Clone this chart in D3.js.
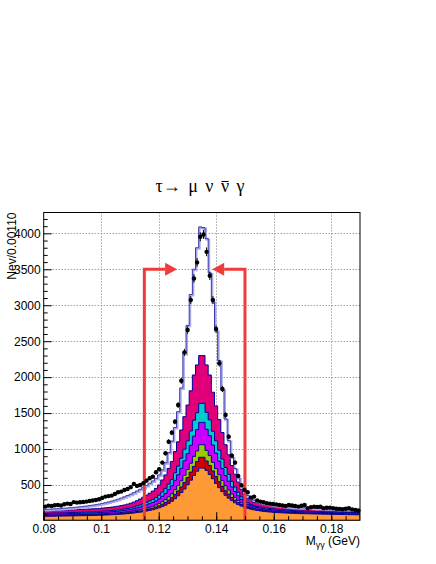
<!DOCTYPE html>
<html>
<head>
<meta charset="utf-8">
<script src="https://cdn.jsdelivr.net/npm/d3@7"></script>
<style>
  body { margin: 0; background: #fff; }
</style>
</head>
<body>
<div id="chart"></div>
<script>
// Histogram binning (100 bins of 0.0011 GeV)
const xMin = 0.08, xMax = 0.19, binWidth = 0.0011, nBins = 100;

// Data points (events per bin)
const dataCounts = [
  199,213,208,218,222,215,232,241,236,262,
  255,260,264,269,278,285,292,301,320,338,
  345,352,375,399,408,431,445,470,514,487,
  500,524,560,593,616,676,718,811,941,1102,
  1228,1381,1612,1950,2345,2655,3072,3373,3596,3952,
  3985,3743,3410,3072,2669,2192,1835,1473,1172,908,
  811,626,496,432,399,324,338,283,269,259,
  246,240,236,230,222,215,208,222,215,208,
  199,210,222,176,190,199,195,199,176,183,
  185,176,170,167,162,170,176,160,153,144
];

// Total MC (blue outline)
const mcTotal = [
  160,163,165,168,171,173,177,180,184,188,
  192,197,202,207,213,219,226,234,243,253,
  264,276,289,303,318,335,353,372,393,416,
  440,466,494,524,556,592,640,710,810,950,
  1110,1300,1520,1850,2330,2720,3150,3500,3800,4090,
  4080,3930,3450,3050,2650,2230,1830,1420,1120,890,
  730,600,490,410,355,315,290,272,260,249,
  240,232,224,217,211,206,201,197,193,190,
  187,184,182,180,178,176,174,172,171,169,
  168,166,165,164,162,161,160,158,157,156
];

// Stacked background components, bottom to top
const bkgOrange = [
  64,65,65,66,67,67,68,69,70,70,
  71,72,73,74,75,76,77,79,80,82,
  84,86,88,91,94,97,101,105,110,116,
  122,129,137,146,156,168,182,199,219,244,
  274,309,349,394,444,503,567,632,692,735,
  735,702,647,587,522,462,407,357,317,282,
  252,227,207,190,176,164,154,146,139,133,
  128,124,120,117,114,112,110,108,106,104,
  102,101,100,99,98,97,96,95,94,93,
  92,91,90,90,89,88,87,87,86,85
];
const bkgRed = [
  7,7,7,7,7,7,7,7,7,8,
  8,8,8,8,8,8,8,9,9,9,
  9,10,10,10,11,11,12,13,14,15,
  16,18,20,22,23,26,29,33,38,44,
  50,59,68,78,91,100,112,126,133,150,
  150,132,124,108,97,85,74,63,54,44,
  36,28,21,16,13,11,10,9,9,9,
  8,8,8,8,7,7,7,7,6,6,
  6,6,6,6,6,6,6,5,5,5,
  5,5,5,5,5,5,5,5,5,5
];
const bkgGreen = [
  8,8,8,8,8,8,8,8,8,9,
  9,9,9,9,9,9,9,10,10,10,
  10,11,11,11,12,13,13,14,15,17,
  18,20,22,24,26,28,32,37,42,49,
  55,66,75,87,101,111,124,140,148,175,
  175,147,138,120,108,95,82,70,60,49,
  40,31,23,18,14,12,11,10,10,10,
  9,9,9,8,8,8,8,7,7,7,
  7,7,7,7,6,6,6,6,6,6,
  6,6,6,6,6,6,6,6,6,5
];
const bkgViolet = [
  15,15,16,16,16,16,16,16,17,17,
  17,17,18,18,18,18,19,19,20,20,
  21,21,22,23,24,25,26,28,30,33,
  37,40,44,48,52,57,64,74,84,97,
  110,131,150,174,201,222,249,280,296,310,
  310,294,277,241,216,190,165,141,121,98,
  80,63,47,35,28,24,22,20,20,19,
  19,18,17,17,16,16,15,15,14,14,
  14,14,13,13,13,13,12,12,12,12,
  12,12,12,11,11,11,11,11,11,11
];
const bkgCyan = [
  12,12,12,13,13,13,13,13,13,14,
  14,14,14,14,14,15,15,15,16,16,
  16,17,18,18,19,20,21,23,24,27,
  29,32,35,38,41,45,51,59,67,78,
  88,105,120,139,161,177,199,224,236,266,
  266,235,221,192,172,152,132,112,96,78,
  64,50,37,28,22,19,17,16,16,16,
  15,14,14,13,13,13,12,12,12,11,
  11,11,11,10,10,10,10,10,10,10,
  9,9,9,9,9,9,9,9,9,9
];
const bkgPink = [
  34,35,35,35,35,37,38,38,38,37,
  38,39,39,40,41,42,43,42,43,45,
  47,47,49,52,53,56,60,63,69,74,
  83,91,100,107,117,128,142,168,190,218,
  248,295,338,393,452,499,559,628,665,664,
  664,660,623,542,485,426,370,317,272,219,
  178,141,105,78,62,52,48,47,44,43,
  43,41,39,38,38,36,35,33,33,33,
  32,30,29,29,29,28,28,28,28,27,
  27,27,26,26,26,25,25,24,24,24
];

const stackKeys   = ["orange", "red", "green", "violet", "cyan", "pink"];
const stackColors = ["#fd9a35", "#cc0000", "#99cc00", "#cc00ff", "#00cccc", "#e2007a"];

// Axis ticks
const xTicks      = [0.08, 0.10, 0.12, 0.14, 0.16, 0.18];
const xTickLabels = ["0.08", "0.1", "0.12", "0.14", "0.16", "0.18"];
const yTicks      = [500, 1000, 1500, 2000, 2500, 3000, 3500, 4000];

// Selection cuts shown with the red arrows
const cutLow = 0.115, cutHigh = 0.15, arrowLevel = 3500, arrowLen = 0.0114;

// Layout
const width = 436, height = 564;
const frame = { left: 43.7, right: 360, top: 212.5, bottom: 520.2 };

const svg = d3.select("#chart")
  .append("svg")
    .attr("width", width)
    .attr("height", height)
    .style("font-family", "'Liberation Sans', Arial, sans-serif");

svg.append("rect").attr("width", width).attr("height", height).attr("fill", "white");

const x = d3.scaleLinear().domain([xMin, xMax]).range([frame.left, frame.right]);
const y = d3.scaleLinear().domain([10, 4290]).range([frame.bottom, frame.top]);

const edges = d3.range(nBins + 1).map(i => xMin + i * binWidth);

// step points: two per bin (low edge, high edge)
function stepPoints(vals) {
  const pts = [];
  vals.forEach(function (v, i) {
    pts.push([edges[i], v]);
    pts.push([edges[i + 1], v]);
  });
  return pts;
}

svg.append("clipPath").attr("id", "frameClip")
  .append("rect")
    .attr("x", frame.left).attr("y", frame.top)
    .attr("width", frame.right - frame.left)
    .attr("height", frame.bottom - frame.top);

// Grid (under the histograms)
const grid = svg.append("g")
  .attr("stroke", "#777")
  .attr("stroke-width", 1)
  .attr("stroke-dasharray", "1,2");

grid.selectAll(".gy")
  .data(yTicks)
  .enter()
    .append("line")
    .attr("x1", frame.left).attr("x2", frame.right)
    .attr("y1", d => Math.round(y(d)) + 0.5)
    .attr("y2", d => Math.round(y(d)) + 0.5);

grid.selectAll(".gx")
  .data(xTicks.slice(1))
  .enter()
    .append("line")
    .attr("y1", frame.top).attr("y2", frame.bottom)
    .attr("x1", d => Math.round(x(d)) + 0.5)
    .attr("x2", d => Math.round(x(d)) + 0.5);

const plot = svg.append("g").attr("clip-path", "url(#frameClip)");

// Stacked histograms
const table = d3.range(nBins).map(i => ({
  orange: bkgOrange[i], red: bkgRed[i], green: bkgGreen[i],
  violet: bkgViolet[i], cyan: bkgCyan[i], pink: bkgPink[i]
}));
const series = d3.stack().keys(stackKeys)(table);

const area = d3.area()
  .x(d => x(d[0]))
  .y0(y(10) + 2)
  .y1(d => y(d[1]));

// draw cumulative histograms from tallest to lowest, like THStack
series.slice().reverse().forEach(function (s) {
  const tops = s.map(d => d[1]);
  plot.append("path")
    .attr("d", area(stepPoints(tops)))
    .attr("fill", stackColors[s.index])
    .attr("stroke", "#000099")
    .attr("stroke-width", 1);
});

// Total MC outline
const line = d3.line().x(d => x(d[0])).y(d => y(d[1]));
plot.append("path")
  .attr("d", line(stepPoints(mcTotal)))
  .attr("transform", "translate(1,1)")
  .attr("fill", "none")
  .attr("stroke", "#a8a8e8")
  .attr("stroke-width", 2);
plot.append("path")
  .attr("d", line(stepPoints(mcTotal)))
  .attr("fill", "none")
  .attr("stroke", "#3a3aae")
  .attr("stroke-width", 1);

// Cut arrows
const red = "#ef3b3b";
const headL = 12, headH = 6.5;
[[cutLow, cutLow + arrowLen], [cutHigh, cutHigh - arrowLen]].forEach(function (c) {
  const x0 = x(c[0]), tip = x(c[1]), ya = y(arrowLevel);
  const dir = tip > x0 ? 1 : -1;
  svg.append("path")
    .attr("d", "M" + x0 + "," + frame.bottom + "V" + ya + "H" + (tip - dir * headL))
    .attr("fill", "none")
    .attr("stroke", red)
    .attr("stroke-width", 3);
  svg.append("path")
    .attr("d", "M" + tip + "," + ya +
               "L" + (tip - dir * headL) + "," + (ya - headH) +
               "L" + (tip - dir * headL) + "," + (ya + headH) + "Z")
    .attr("fill", red);
});

// Data points with error bars
const centers = d3.range(nBins).map(i => xMin + (i + 0.5) * binWidth);
const pts = svg.append("g");
pts.selectAll(".err")
  .data(dataCounts)
  .enter()
    .append("line")
    .attr("x1", (d, i) => x(centers[i]))
    .attr("x2", (d, i) => x(centers[i]))
    .attr("y1", d => y(d - Math.sqrt(d)))
    .attr("y2", d => y(d + Math.sqrt(d)))
    .attr("stroke", "black")
    .attr("stroke-width", 1);
pts.selectAll(".dot")
  .data(dataCounts)
  .enter()
    .append("circle")
    .attr("cx", (d, i) => x(centers[i]))
    .attr("cy", d => y(d))
    .attr("r", 2.2)
    .attr("fill", "black");

// Axes (ticks inside the frame)
const yMinor = d3.range(100, 4290, 100).filter(v => v % 500 !== 0);
const xMinor = d3.range(16, 38).map(k => k * 0.005);

svg.append("g")
  .attr("transform", "translate(" + frame.left + ",0)")
  .call(d3.axisLeft(y).tickValues(yTicks).tickSize(-8).tickPadding(3).tickFormat(d => d));
svg.append("g")
  .attr("transform", "translate(" + frame.left + ",0)")
  .call(d3.axisLeft(y).tickValues(yMinor).tickSize(-4).tickFormat(""));

svg.append("g")
  .attr("transform", "translate(0," + frame.bottom + ")")
  .call(d3.axisBottom(x).tickValues(xTicks).tickSize(-8).tickPadding(4)
        .tickFormat((d, i) => xTickLabels[i]));
svg.append("g")
  .attr("transform", "translate(0," + frame.bottom + ")")
  .call(d3.axisBottom(x).tickValues(xMinor).tickSize(-4).tickFormat(""));

svg.selectAll(".domain").remove();
svg.selectAll(".tick text")
  .attr("font-family", "'Liberation Sans', Arial, sans-serif")
  .attr("font-size", 12)
  .attr("fill", "black");

// Frame
svg.append("rect")
  .attr("x", frame.left).attr("y", frame.top)
  .attr("width", frame.right - frame.left)
  .attr("height", frame.bottom - frame.top)
  .attr("fill", "none")
  .attr("stroke", "black")
  .attr("stroke-width", 1);

// Title: tau -> mu nu nubar gamma (bar drawn over the 2nd nu)
const title = svg.append("text")
  .attr("x", 200)
  .attr("y", 192)
  .attr("text-anchor", "middle")
  .style("font-family", "'Liberation Serif', 'Times New Roman', serif")
  .style("font-size", "18px")
  .style("word-spacing", "3px")
  .text("τ\u2192 μ ν ν γ");
const tn = title.node();
const barStart = tn.getStartPositionOfChar(7), barEnd = tn.getEndPositionOfChar(7);
svg.append("line")
  .attr("x1", barStart.x + 0.5).attr("x2", barEnd.x - 0.5)
  .attr("y1", 181.5).attr("y2", 181.5)
  .attr("stroke", "black")
  .attr("stroke-width", 1);

const xt = svg.append("text")
  .attr("x", frame.right)
  .attr("y", 545)
  .attr("text-anchor", "end")
  .style("font-size", "12px");
xt.append("tspan").text("M");
xt.append("tspan").attr("dy", 3).style("font-size", "9px").text("γγ");
xt.append("tspan").attr("dy", -3).text(" (GeV)");

svg.append("text")
  .attr("transform", "translate(16," + frame.top + ") rotate(-90)")
  .attr("text-anchor", "end")
  .style("font-size", "12px")
  .text("Nev/0.00110");
</script>
</body>
</html>
